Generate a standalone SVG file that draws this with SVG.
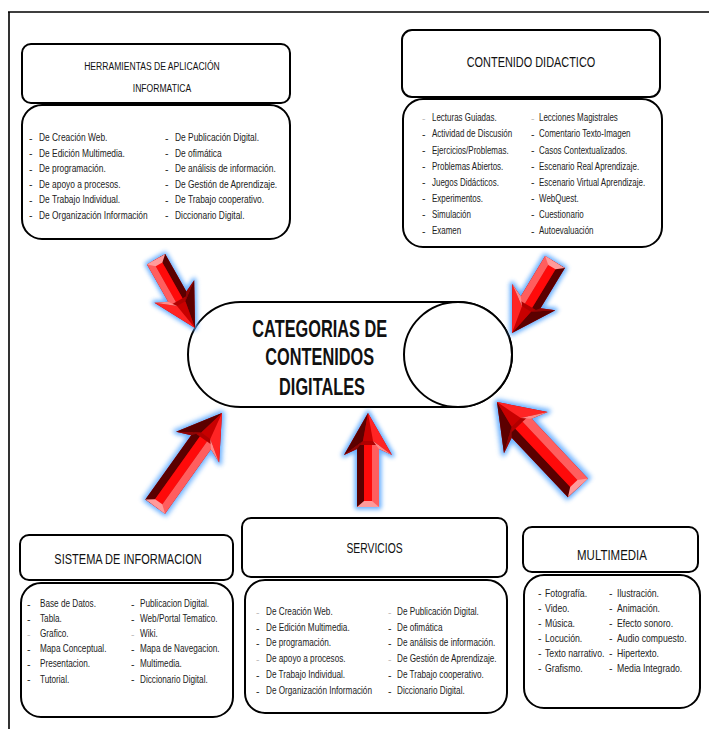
<svg xmlns="http://www.w3.org/2000/svg" xmlns:xlink="http://www.w3.org/1999/xlink" width="709" height="729" viewBox="0 0 709 729">
  <style>
    .box { fill: #fff; stroke: #000; stroke-width: 2; }
    .frame { fill: none; stroke: #000; stroke-width: 1.6; }
    .hd { font-family: "Liberation Sans", Arial, sans-serif; fill: #111; text-anchor: middle; }
    .tx { font-family: "Liberation Sans", Arial, sans-serif; fill: #222; font-size: 10.5px; }
    .dash { font-family: "Liberation Sans", Arial, sans-serif; fill: #222; font-size: 10.5px; }
    .faint { fill: #bdbdbd; }
    .title { font-family: "Liberation Sans", Arial, sans-serif; font-weight: bold; font-size: 23px; fill: #111; text-anchor: middle; }
    .halo { fill: #5aa8ff; stroke: #5aa8ff; stroke-width: 5; stroke-linejoin: round; opacity: 0.9; }
    .base { fill: #b00000; }
    .sd { fill: #5a0000; }
    .sm { fill: #ff0a0a; }
    .sl { fill: #ff5e5e; }
    .st { fill: #ff9a9a; }
  </style>
  <defs>
    <filter id="soft" x="-30%" y="-30%" width="160%" height="160%">
      <feGaussianBlur stdDeviation="2.2"/>
    </filter>
    <!-- faceted arrow head, tip at origin, pointing +x -->
    <g id="ahead">
      <polygon points="0,0 -42,-24 -28,-5" fill="#5c0000"/>
      <polygon points="-42,-24 -36,-11 -28,-5" fill="#8e0606"/>
      <polygon points="0,0 -28,-5 -28,5" fill="#c80000"/>
      <polygon points="0,0 -28,5 -42,24" fill="#ff2424"/>
      <polygon points="-42,24 -36,11 -28,5" fill="#ff8a8a"/>
    </g>
  </defs>

  <!-- page frame -->
  <path class="frame" d="M8,12 H709 M9,12 V729"/>

  <!-- center node -->
  <g id="categorias">
    <path class="box" d="M240.5,302 H458 A54,52.5 0 0 1 458,407 H240.5 A52.5,52.5 0 0 1 240.5,302 Z"/>
    <ellipse class="box" cx="458" cy="354.5" rx="54" ry="52.5"/>
    <text class="title" transform="translate(322,0) scale(0.71,1)">
      <tspan x="0" y="337">CATEGORIAS  DE</tspan>
      <tspan x="0" y="365">CONTENIDOS</tspan>
      <tspan x="0" y="395">DIGITALES</tspan>
    </text>
  </g>

  <!-- Herramientas de aplicación informática -->
  <g id="herramientas">
    <rect class="box" x="22" y="44" width="268" height="59" rx="9"/>
    <rect class="box" x="22" y="105" width="268" height="134" rx="20"/>
    <text class="hd" font-size="11" transform="translate(152,0) scale(0.78,1)"><tspan x="0" y="70">HERRAMIENTAS DE APLICACIÓN</tspan></text>
    <text class="hd" font-size="11" transform="translate(162,0) scale(0.78,1)"><tspan x="0" y="92">INFORMATICA</tspan></text>
    <text class="dash">
      <tspan x="29" y="141.5">-</tspan><tspan x="29" y="157">-</tspan><tspan x="29" y="172.5">-</tspan>
      <tspan x="29" y="188">-</tspan><tspan x="29" y="203.5">-</tspan><tspan x="29" y="219">-</tspan>
      <tspan x="165" y="141.5">-</tspan><tspan x="165" y="157">-</tspan><tspan x="165" y="172.5">-</tspan>
      <tspan x="165" y="188">-</tspan><tspan x="165" y="203.5">-</tspan><tspan x="165" y="219">-</tspan>
    </text>
    <text class="tx" transform="translate(39,0) scale(0.8,1)">
      <tspan x="0" y="141.5">De Creación Web.</tspan>
      <tspan x="0" y="157">De Edición Multimedia.</tspan>
      <tspan x="0" y="172.5">De programación.</tspan>
      <tspan x="0" y="188">De apoyo a procesos.</tspan>
      <tspan x="0" y="203.5">De Trabajo Individual.</tspan>
      <tspan x="0" y="219">De Organización  Información</tspan>
    </text>
    <text class="tx" transform="translate(175,0) scale(0.8,1)">
      <tspan x="0" y="141.5">De Publicación  Digital.</tspan>
      <tspan x="0" y="157">De ofimática</tspan>
      <tspan x="0" y="172.5">De análisis de información.</tspan>
      <tspan x="0" y="188">De Gestión de Aprendizaje.</tspan>
      <tspan x="0" y="203.5">De Trabajo  cooperativo.</tspan>
      <tspan x="0" y="219">Diccionario  Digital.</tspan>
    </text>
  </g>

  <!-- Contenido didáctico -->
  <g id="contenido">
    <rect class="box" x="402" y="30" width="258" height="67" rx="10"/>
    <rect class="box" x="403" y="99" width="259" height="148" rx="20"/>
    <text class="hd" font-size="14" transform="translate(531,0) scale(0.78,1)"><tspan x="0" y="67">CONTENIDO  DIDACTICO</tspan></text>
    <text class="dash">
      <tspan class="faint" x="422" y="121.5">-</tspan><tspan x="422" y="137.5">-</tspan><tspan x="422" y="154">-</tspan>
      <tspan x="422" y="170">-</tspan><tspan x="422" y="186">-</tspan><tspan x="422" y="202">-</tspan>
      <tspan x="422" y="218">-</tspan><tspan x="422" y="234.5">-</tspan>
      <tspan class="faint" x="531" y="121.5">-</tspan><tspan x="531" y="137.5">-</tspan><tspan x="531" y="154">-</tspan>
      <tspan x="531" y="170">-</tspan><tspan x="531" y="186">-</tspan><tspan x="531" y="202">-</tspan>
      <tspan x="531" y="218">-</tspan><tspan x="531" y="234.5">-</tspan>
    </text>
    <text class="tx" transform="translate(432,0) scale(0.76,1)">
      <tspan x="0" y="121.5">Lecturas  Guiadas.</tspan>
      <tspan x="0" y="137.5">Actividad de Discusión</tspan>
      <tspan x="0" y="154">Ejercicios/Problemas.</tspan>
      <tspan x="0" y="170">Problemas Abiertos.</tspan>
      <tspan x="0" y="186">Juegos Didácticos.</tspan>
      <tspan x="0" y="202">Experimentos.</tspan>
      <tspan x="0" y="218">Simulación</tspan>
      <tspan x="0" y="234.5">Examen</tspan>
    </text>
    <text class="tx" transform="translate(539,0) scale(0.76,1)">
      <tspan x="0" y="121.5">Lecciones Magistrales</tspan>
      <tspan x="0" y="137.5">Comentario Texto-Imagen</tspan>
      <tspan x="0" y="154">Casos Contextualizados.</tspan>
      <tspan x="0" y="170">Escenario Real Aprendizaje.</tspan>
      <tspan x="0" y="186">Escenario Virtual Aprendizaje.</tspan>
      <tspan x="0" y="202">WebQuest.</tspan>
      <tspan x="0" y="218">Cuestionario</tspan>
      <tspan x="0" y="234.5">Autoevaluación</tspan>
    </text>
  </g>

  <!-- Sistema de información -->
  <g id="sistema">
    <rect class="box" x="20" y="535" width="213" height="45" rx="9"/>
    <rect class="box" x="21" y="583" width="212" height="134" rx="20"/>
    <text class="hd" font-size="14.5" transform="translate(128,0) scale(0.76,1)"><tspan x="0" y="564">SISTEMA DE  INFORMACION</tspan></text>
    <text class="dash">
      <tspan x="27" y="607.5">-</tspan><tspan x="27" y="622.5">-</tspan><tspan class="faint" x="27" y="637.5">-</tspan>
      <tspan x="27" y="652.5">-</tspan><tspan x="27" y="667.5">-</tspan><tspan x="27" y="682.5">-</tspan>
      <tspan x="131" y="607.5">-</tspan><tspan x="131" y="622.5">-</tspan><tspan class="faint" x="131" y="637.5">-</tspan>
      <tspan x="131" y="652.5">-</tspan><tspan x="131" y="667.5">-</tspan><tspan x="131" y="682.5">-</tspan>
    </text>
    <text class="tx" transform="translate(40,0) scale(0.78,1)">
      <tspan x="0" y="607.5">Base de Datos.</tspan>
      <tspan x="0" y="622.5">Tabla.</tspan>
      <tspan x="0" y="637.5">Grafico.</tspan>
      <tspan x="0" y="652.5">Mapa Conceptual.</tspan>
      <tspan x="0" y="667.5">Presentacion.</tspan>
      <tspan x="0" y="682.5">Tutorial.</tspan>
    </text>
    <text class="tx" transform="translate(140,0) scale(0.78,1)">
      <tspan x="0" y="607.5">Publicacion Digital.</tspan>
      <tspan x="0" y="622.5">Web/Portal Tematico.</tspan>
      <tspan x="0" y="637.5">Wiki.</tspan>
      <tspan x="0" y="652.5">Mapa de Navegacion.</tspan>
      <tspan x="0" y="667.5">Multimedia.</tspan>
      <tspan x="0" y="682.5">Diccionario  Digital.</tspan>
    </text>
  </g>

  <!-- Servicios -->
  <g id="servicios">
    <rect class="box" x="242" y="518" width="265" height="59" rx="9"/>
    <rect class="box" x="245" y="580" width="262" height="133" rx="20"/>
    <text class="hd" font-size="14" transform="translate(374.5,0) scale(0.74,1)"><tspan x="0" y="553">SERVICIOS</tspan></text>
    <text class="dash">
      <tspan class="faint" x="256" y="615.5">-</tspan><tspan x="256" y="631.5">-</tspan><tspan x="256" y="646.5">-</tspan>
      <tspan class="faint" x="256" y="662.5">-</tspan><tspan x="256" y="678.5">-</tspan><tspan x="256" y="694.5">-</tspan>
      <tspan class="faint" x="388" y="615.5">-</tspan><tspan x="388" y="631.5">-</tspan><tspan x="388" y="646.5">-</tspan>
      <tspan class="faint" x="388" y="662.5">-</tspan><tspan x="388" y="678.5">-</tspan><tspan x="388" y="694.5">-</tspan>
    </text>
    <text class="tx" transform="translate(266,0) scale(0.78,1)">
      <tspan x="0" y="615.5">De Creación Web.</tspan>
      <tspan x="0" y="631.5">De Edición Multimedia.</tspan>
      <tspan x="0" y="646.5">De programación.</tspan>
      <tspan x="0" y="662.5">De apoyo a procesos.</tspan>
      <tspan x="0" y="678.5">De Trabajo Individual.</tspan>
      <tspan x="0" y="694.5">De Organización  Información</tspan>
    </text>
    <text class="tx" transform="translate(397,0) scale(0.78,1)">
      <tspan x="0" y="615.5">De Publicación  Digital.</tspan>
      <tspan x="0" y="631.5">De ofimática</tspan>
      <tspan x="0" y="646.5">De análisis de información.</tspan>
      <tspan x="0" y="662.5">De Gestión de Aprendizaje.</tspan>
      <tspan x="0" y="678.5">De Trabajo  cooperativo.</tspan>
      <tspan x="0" y="694.5">Diccionario  Digital.</tspan>
    </text>
  </g>

  <!-- Multimedia -->
  <g id="multimedia">
    <rect class="box" x="523" y="527" width="175" height="45" rx="9"/>
    <rect class="box" x="524" y="575" width="176" height="133" rx="20"/>
    <text class="hd" font-size="14" transform="translate(612,0) scale(0.82,1)"><tspan x="0" y="560">MULTIMEDIA</tspan></text>
    <text class="dash" font-size="9.5">
      <tspan x="538" y="597">-</tspan><tspan x="538" y="612">-</tspan><tspan x="538" y="627">-</tspan>
      <tspan x="538" y="642">-</tspan><tspan x="538" y="657">-</tspan><tspan x="538" y="672">-</tspan>
      <tspan x="609" y="597">-</tspan><tspan x="609" y="612">-</tspan><tspan x="609" y="627">-</tspan>
      <tspan x="609" y="642">-</tspan><tspan x="609" y="657">-</tspan><tspan x="609" y="672">-</tspan>
    </text>
    <text class="tx" font-size="9.5" transform="translate(545,0) scale(0.83,1)">
      <tspan x="0" y="597">Fotografía.</tspan>
      <tspan x="0" y="612">Video.</tspan>
      <tspan x="0" y="627">Música.</tspan>
      <tspan x="0" y="642">Locución.</tspan>
      <tspan x="0" y="657">Texto narrativo.</tspan>
      <tspan x="0" y="672">Grafismo.</tspan>
    </text>
    <text class="tx" font-size="9.5" transform="translate(617,0) scale(0.83,1)">
      <tspan x="0" y="597">Ilustración.</tspan>
      <tspan x="0" y="612">Animación.</tspan>
      <tspan x="0" y="627">Efecto sonoro.</tspan>
      <tspan x="0" y="642">Audio compuesto.</tspan>
      <tspan x="0" y="657">Hipertexto.</tspan>
      <tspan x="0" y="672">Media Integrado.</tspan>
    </text>
  </g>

  <!-- 3D arrows pointing into the center node (local frame: tip at origin, pointing +x) -->
  <g id="connectors">
    <g transform="translate(195,328) rotate(60.5) scale(1,0.95)">
      <polygon class="halo" filter="url(#soft)" points="0,0 -42,-24 -36,-11 -79,-11 -79,11 -36,11 -42,24"/>
      <polygon class="base" points="0,0 -42,-24 -36,-11 -79,-11 -79,11 -36,11 -42,24"/>
      <rect class="sd" x="-79" y="-11" width="47" height="7"/>
      <rect class="sm" x="-79" y="-4" width="47" height="8"/>
      <rect class="sl" x="-79" y="4" width="47" height="7"/>
      <polygon class="st" points="-79,-11 -73,-4 -73,4 -79,11"/>
      <use xlink:href="#ahead"/>
    </g>
    <g transform="translate(512,333) rotate(121.2) scale(1,1.05)">
      <polygon class="halo" filter="url(#soft)" points="0,0 -42,-24 -36,-11 -83,-11 -83,11 -36,11 -42,24"/>
      <polygon class="base" points="0,0 -42,-24 -36,-11 -83,-11 -83,11 -36,11 -42,24"/>
      <rect class="sd" x="-83" y="-11" width="51" height="7"/>
      <rect class="sm" x="-83" y="-4" width="51" height="8"/>
      <rect class="sl" x="-83" y="4" width="51" height="7"/>
      <polygon class="st" points="-83,-11 -77,-4 -77,4 -83,11"/>
      <use xlink:href="#ahead"/>
    </g>
    <g transform="translate(222,413) rotate(-54.5) scale(1,1.1)">
      <polygon class="halo" filter="url(#soft)" points="0,0 -42,-24 -36,-11 -115,-11 -115,11 -36,11 -42,24"/>
      <polygon class="base" points="0,0 -42,-24 -36,-11 -115,-11 -115,11 -36,11 -42,24"/>
      <rect class="sd" x="-115" y="-11" width="83" height="7"/>
      <rect class="sm" x="-115" y="-4" width="83" height="8"/>
      <rect class="sl" x="-115" y="4" width="83" height="7"/>
      <polygon class="st" points="-115,-11 -109,-4 -109,4 -115,11"/>
      <use xlink:href="#ahead"/>
    </g>
    <g transform="translate(368,413) rotate(-90)">
      <polygon class="halo" filter="url(#soft)" points="0,0 -42,-24 -36,-11 -94,-11 -94,11 -36,11 -42,24"/>
      <polygon class="base" points="0,0 -42,-24 -36,-11 -94,-11 -94,11 -36,11 -42,24"/>
      <rect class="sd" x="-94" y="-11" width="62" height="7"/>
      <rect class="sm" x="-94" y="-4" width="62" height="8"/>
      <rect class="sl" x="-94" y="4" width="62" height="7"/>
      <polygon class="st" points="-94,-11 -88,-4 -88,4 -94,11"/>
      <use xlink:href="#ahead"/>
    </g>
    <g transform="translate(497,402) rotate(-133.3) scale(1,1.25)">
      <polygon class="halo" filter="url(#soft)" points="0,0 -42,-24 -36,-11 -118,-11 -118,11 -36,11 -42,24"/>
      <polygon class="base" points="0,0 -42,-24 -36,-11 -118,-11 -118,11 -36,11 -42,24"/>
      <rect class="sd" x="-118" y="-11" width="86" height="7"/>
      <rect class="sm" x="-118" y="-4" width="86" height="8"/>
      <rect class="sl" x="-118" y="4" width="86" height="7"/>
      <polygon class="st" points="-118,-11 -112,-4 -112,4 -118,11"/>
      <use xlink:href="#ahead"/>
    </g>
  </g>
</svg>
